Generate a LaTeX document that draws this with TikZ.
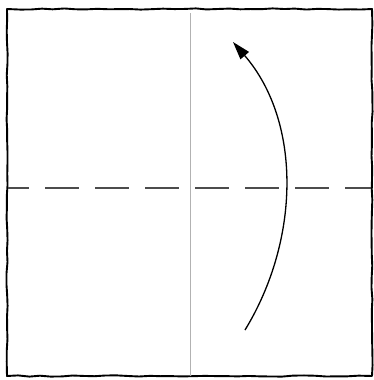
\documentclass[tikz,border=0pt]{standalone}
\usetikzlibrary{arrows.meta, decorations.pathmorphing}

\begin{document}
\begin{tikzpicture}[
    x=1pt, y=-1pt,
    paper edge/.style={draw=black, line width=1.9pt, line join=round,
        decorate, decoration={random steps, segment length=11pt, amplitude=0.6pt}},
    crease/.style={draw=black!30, line width=0.8pt},
    valley fold/.style={draw=black!70, line width=1.1pt, dash pattern=on 34pt off 16pt, dash phase=13pt},
    fold arrow/.style={draw=black, line width=1.3pt, -{Triangle[length=18pt, width=11pt]}}
]
\pgfmathsetseed{7}
\useasboundingbox (0,0) rectangle (374,380);

% Paper
\draw[paper edge] (7,9) rectangle (372,376);

% Creases
\coordinate (crease top) at (190,13);
\coordinate (crease bottom) at (190,376);
\draw[crease] (crease top) -- (crease bottom);

\coordinate (fold left) at (8,188);
\coordinate (fold right) at (371,188);
\draw[valley fold] (fold left) -- (fold right);

% Arrow
\coordinate (arrow start) at (245,330);
\coordinate (arrow end) at (233,42);
\draw[fold arrow] (arrow start) .. controls (300,240) and (302,122) .. (arrow end);

\end{tikzpicture}
\end{document}
